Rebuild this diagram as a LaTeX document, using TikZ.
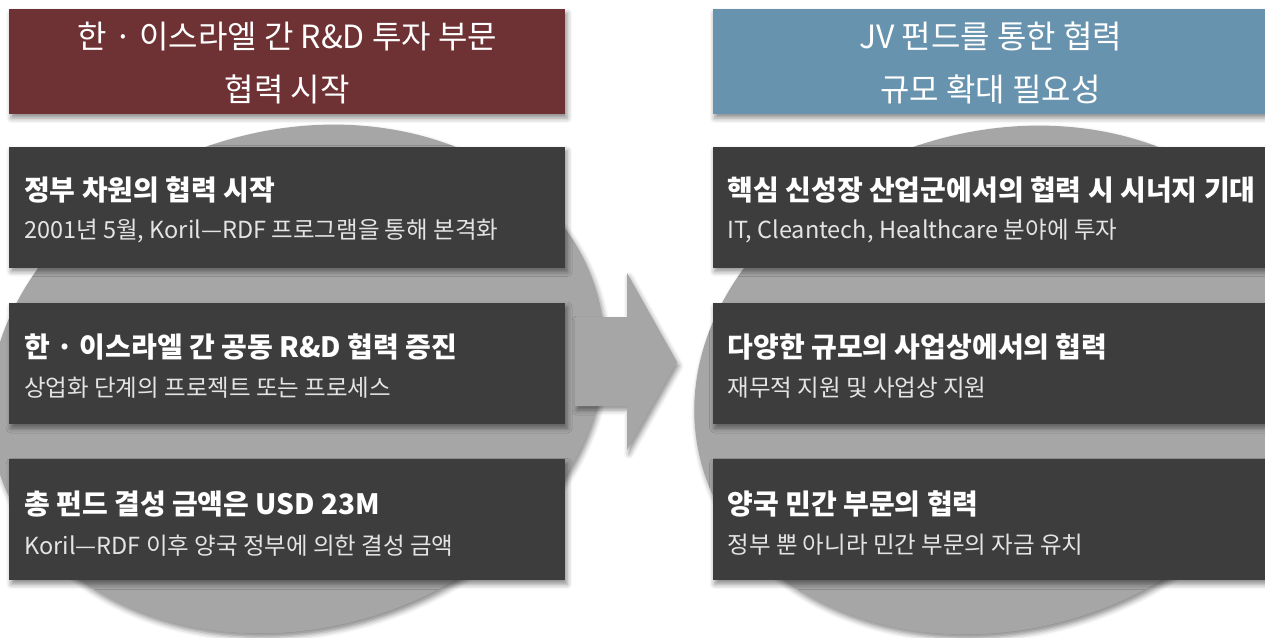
\documentclass[tikz,border=0pt]{standalone}
\usepackage{fontspec}
\setmainfont{Noto Sans CJK KR}
\definecolor{krwine}{HTML}{6E3234}
\definecolor{krsteel}{HTML}{6893AE}
\definecolor{krslate}{HTML}{3D3D3D}
\definecolor{krgray}{HTML}{A6A6A6}
\definecolor{krpale}{HTML}{E4E4E4}
\usetikzlibrary{positioning, shadows.blur}

\begin{document}
\begin{tikzpicture}[x=1pt, y=-1pt, node distance=35pt,
    soft/.style={blur shadow={shadow xshift=2pt, shadow yshift=-4pt, shadow blur radius=5pt, shadow opacity=45}},
    backdrop/.style={fill=krgray, soft},
    head/.style={soft, text=white, minimum width=556pt, minimum height=105pt, align=center, font=\fontsize{32pt}{53pt}\selectfont},
    card/.style={soft, fill=krslate, minimum width=556pt, minimum height=121pt},
    cardtitle/.style={anchor=west, inner sep=0pt, text=white, font=\bfseries\fontsize{28pt}{32pt}\selectfont},
    cardsub/.style={anchor=west, inner sep=0pt, text=krpale, font=\fontsize{23.5pt}{28pt}\selectfont}]
  \useasboundingbox (0,0) rectangle (1265,637);

  % gray discs and the arrow between them
  \fill[backdrop, rotate around={16:(297,379)}] (297,379) ellipse [x radius=312pt, y radius=249pt];
  \fill[backdrop, rotate around={16:(1002,380)}] (1002,380) ellipse [x radius=312pt, y radius=249pt];
  \fill[backdrop] (575,317) -- (627,317) -- (627,273) -- (677,362) -- (627,450) -- (627,406) -- (575,406) -- cycle;

  % headers
  \node[head, fill=krwine, anchor=north west] (lhead) at (9,9) {\rule{0pt}{30pt}한 · 이스라엘 간 R\&D 투자 부문\\협력 시작};
  \node[head, fill=krsteel, right=147pt of lhead] (rhead) {\rule{0pt}{30pt}JV 펀드를 통한 협력\\규모 확대 필요성};

  % left column
  \node[card, below=32pt of lhead] (l1) {};
  \node[card, below=of l1] (l2) {};
  \node[card, below=of l2] (l3) {};
  \node[cardtitle] (l1t) at ([xshift=15pt, yshift=-44pt]l1.north west) {정부 차원의 협력 시작};
  \node[cardsub] (l1s) at ([xshift=15pt, yshift=-85pt]l1.north west) {2001년 5월, Koril—RDF 프로그램을 통해 본격화};
  \node[cardtitle] (l2t) at ([xshift=15pt, yshift=-44pt]l2.north west) {한 · 이스라엘 간 공동 R\&D 협력 증진};
  \node[cardsub] (l2s) at ([xshift=15pt, yshift=-85pt]l2.north west) {상업화 단계의 프로젝트 또는 프로세스};
  \node[cardtitle] (l3t) at ([xshift=15pt, yshift=-45pt]l3.north west) {총 펀드 결성 금액은 USD 23M};
  \node[cardsub] (l3s) at ([xshift=15pt, yshift=-86pt]l3.north west) {Koril—RDF 이후 양국 정부에 의한 결성 금액};

  % right column
  \node[card, below=32pt of rhead] (r1) {};
  \node[card, below=of r1] (r2) {};
  \node[card, below=of r2] (r3) {};
  \node[cardtitle] (r1t) at ([xshift=15pt, yshift=-44pt]r1.north west) {핵심 신성장 산업군에서의 협력 시 시너지 기대};
  \node[cardsub] (r1s) at ([xshift=15pt, yshift=-85pt]r1.north west) {IT, Cleantech, Healthcare 분야에 투자};
  \node[cardtitle] (r2t) at ([xshift=15pt, yshift=-44pt]r2.north west) {다양한 규모의 사업상에서의 협력};
  \node[cardsub] (r2s) at ([xshift=15pt, yshift=-85pt]r2.north west) {재무적 지원 및 사업상 지원};
  \node[cardtitle] (r3t) at ([xshift=15pt, yshift=-45pt]r3.north west) {양국 민간 부문의 협력};
  \node[cardsub] (r3s) at ([xshift=15pt, yshift=-86pt]r3.north west) {정부 뿐 아니라 민간 부문의 자금 유치};
\end{tikzpicture}
\end{document}
